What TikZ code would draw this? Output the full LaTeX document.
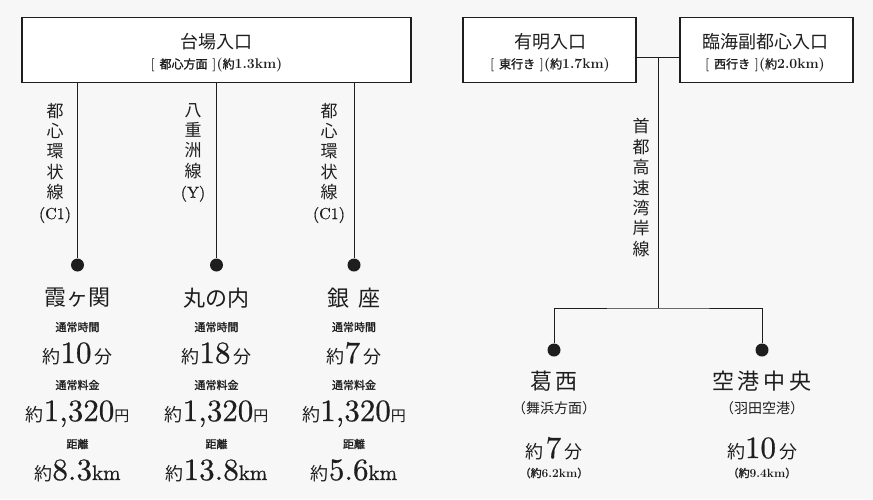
\documentclass[tikz,border=0pt]{standalone}
\usepackage{fontspec}
\newfontfamily\jp{Noto Sans CJK JP}
\newfontfamily\jpb[FakeBold=1.5]{Noto Sans CJK JP}
\newfontfamily\lmb{lmroman10-regular}[Extension=.otf, FakeBold=0.6]
\definecolor{bg}{RGB}{247,247,247}
\definecolor{ink}{RGB}{30,30,30}
\newcommand\JA[2]{{\jp\fontsize{#1}{#1}\selectfont #2}}
\newcommand\JB[2]{{\jpb\fontsize{#1}{#1}\selectfont #2}}
\newcommand\LA[2]{{\lmb\fontsize{#1}{#1}\selectfont #2}}
\newcommand\LB[2]{{\rmfamily\bfseries\fontsize{#1}{#1}\selectfont #2}}
\tikzset{
  box/.style={draw=ink, line width=1.1pt, fill=white, inner sep=0pt},
  txt/.style={inner sep=0pt, text=ink},
  ttl/.style={txt, font=\jp\fontsize{18}{18}\selectfont},
  sub/.style={txt},
  vlab/.style={txt, align=center, font=\jp\fontsize{17}{20.4}\selectfont},
  stn/.style={txt, font=\jp\fontsize{22}{22}\selectfont},
  small/.style={txt, font=\jpb\fontsize{11}{11}\selectfont},
  big/.style={txt, anchor=base},
  dot/.style={circle, fill=ink, inner sep=0pt, minimum size=13pt},
  wire/.style={draw=ink, line width=0.9pt}
}
\begin{document}
\begin{tikzpicture}[x=1pt, y=-1pt]
\fill[bg] (0,0) rectangle (873,499);
\useasboundingbox (0,0) rectangle (873,499);

% ---- entrance boxes ----
\node[box, minimum width=389pt, minimum height=65pt] (bA) at (216.5,49.75) {};
\node[box, minimum width=173pt, minimum height=65pt] (bB) at (549.5,49.75) {};
\node[box, minimum width=173pt, minimum height=65pt] (bC) at (766.5,49.75) {};

\node[ttl] (tA) at (216.5,42) {台場入口};
\node[sub] (sA) at (216.5,65) {\LB{13}{[ }\JB{12}{都心方面}\LB{13}{ ]}\LB{14}{(}\JB{12}{約}\LB{14}{1.3km)}};
\node[ttl] (tB) at (550,42) {有明入口};
\node[sub] (sB) at (550,65) {\LB{13}{[ }\JB{12}{東行き}\LB{13}{ ]}\LB{14}{(}\JB{12}{約}\LB{14}{1.7km)}};
\node[ttl] (tC) at (765,42) {臨海副都心入口};
\node[sub] (sC) at (765,65) {\LB{13}{[ }\JB{12}{西行き}\LB{13}{ ]}\LB{14}{(}\JB{12}{約}\LB{14}{2.0km)}};

% ---- left: dots and connectors ----
\node[dot] (d1) at (77.5,265) {};
\node[dot] (d2) at (216.5,265) {};
\node[dot] (d3) at (354,265) {};
\draw[wire] (bA.south -| d1) -- (d1);
\draw[wire] (bA.south -| d2) -- (d2);
\draw[wire] (bA.south -| d3) -- (d3);

\node[vlab] (r1) at (55,163) {都\\心\\環\\状\\線\\\LA{16}{(C1)}};
\node[vlab] (r2) at (193,152.5) {八\\重\\洲\\線\\\LA{16}{(Y)}};
\node[vlab] (r3) at (329,163) {都\\心\\環\\状\\線\\\LA{16}{(C1)}};

% ---- left columns ----
\node[stn] (n1) at (77.5,298) {霞ヶ関};
\node[stn] (n2) at (216.5,298) {丸の内};
\node[stn] (n3) at (354,298) {銀\hspace{10pt}座};

\node[small] (a1) at (77.5,327) {通常時間};
\node[small] (a2) at (216.5,327) {通常時間};
\node[small] (a3) at (354,327) {通常時間};

\node[big] (v1) at (77.5,363) {\JA{18}{約}\LA{31}{10}\hspace{3pt}\JA{18}{分}};
\node[big] (v2) at (216.5,363) {\JA{18}{約}\LA{31}{18}\hspace{3pt}\JA{18}{分}};
\node[big] (v3) at (354,363) {\JA{18}{約}\LA{31}{7}\hspace{3pt}\JA{18}{分}};

\node[small] (b1) at (77.5,385) {通常料金};
\node[small] (b2) at (216.5,385) {通常料金};
\node[small] (b3) at (354,385) {通常料金};

\node[big] (p1) at (77.5,421) {\JA{18}{約}\LA{31}{1,320}\JA{15}{円}};
\node[big] (p2) at (216.5,421) {\JA{18}{約}\LA{31}{1,320}\JA{15}{円}};
\node[big] (p3) at (354,421) {\JA{18}{約}\LA{31}{1,320}\JA{15}{円}};

\node[small] (c1) at (77.5,444) {距離};
\node[small] (c2) at (216.5,444) {距離};
\node[small] (c3) at (354,444) {距離};

\node[big] (m1) at (77.5,480) {\JA{18}{約}\LA{31}{8.3}\LA{21}{km}};
\node[big] (m2) at (216.5,480) {\JA{18}{約}\LA{31}{13.8}\LA{21}{km}};
\node[big] (m3) at (354,480) {\JA{18}{約}\LA{31}{5.6}\LA{21}{km}};

% ---- right: connectors ----
\coordinate (j1) at (658,57);
\coordinate (j2) at (658,308);
\node[dot] (d4) at (554,350) {};
\node[dot] (d5) at (762,350) {};
\draw[wire] (bB.east |- j1) -- (bC.west |- j1);
\draw[wire] (j1) -- (j2);
\draw[wire] (d4) |- (j2) -| (d5);

\node[vlab] (r4) at (641,187.5) {首\\都\\高\\速\\湾\\岸\\線};

% ---- right columns ----
\node[stn] (n4) at (554,381) {葛\hspace{4pt}西};
\node[stn] (n5) at (762,381) {空\hspace{4pt}港\hspace{4pt}中\hspace{4pt}央};
\node[txt, font=\jp\fontsize{14}{14}\selectfont] (s4) at (554,408) {（舞浜方面）};
\node[txt, font=\jp\fontsize{14}{14}\selectfont] (s5) at (762,408) {（羽田空港）};
\node[big] (v4) at (554,458) {\JA{18}{約}\hspace{2pt}\LA{31}{7}\hspace{3pt}\JA{18}{分}};
\node[big] (v5) at (762,458) {\JA{18}{約}\LA{31}{10}\hspace{3pt}\JA{18}{分}};
\node[txt] (k4) at (554,473) {\JB{11}{（約}\LB{12}{6.2km}\JB{11}{）}};
\node[txt] (k5) at (762,473) {\JB{11}{（約}\LB{12}{9.4km}\JB{11}{）}};
\end{tikzpicture}
\end{document}
